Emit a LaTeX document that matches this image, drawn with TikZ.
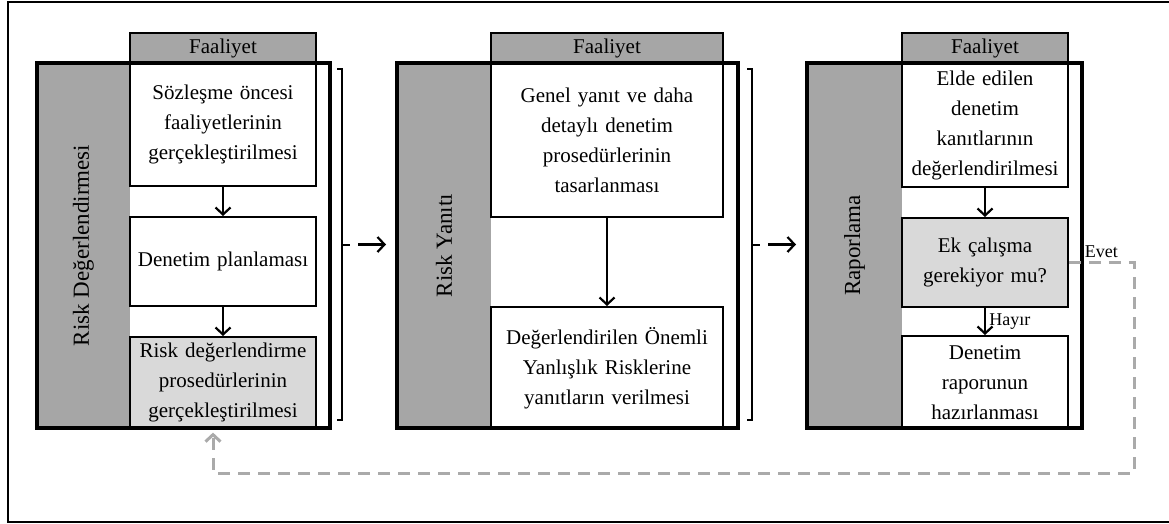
\documentclass[tikz,border=0pt]{standalone}
\usepackage{fontspec}
\setmainfont{Liberation Serif}
\usetikzlibrary{arrows.meta}

\definecolor{barGray}{RGB}{166,166,166}
\definecolor{stepGray}{RGB}{217,217,217}
\definecolor{loopGray}{RGB}{170,170,170}

\tikzset{
  colframe/.style={draw, line width=4pt, inner sep=0pt},
  sidebar/.style={fill=barGray, inner sep=0pt, rotate=90,
    font=\fontsize{23}{28}\selectfont},
  tabbox/.style={draw, fill=barGray, line width=1.3pt, inner sep=0pt,
    minimum height=30pt, font=\fontsize{21}{30}\selectfont},
  stepbox/.style={draw, fill=white, line width=1.6pt, inner sep=0pt,
    align=center, anchor=north, font=\fontsize{21}{30}\selectfont},
  askbox/.style={stepbox, fill=stepGray},
  flow/.style={-{Straight Barb[length=7pt, width=15pt]}, line width=2.2pt},
  loopline/.style={-{Straight Barb[length=7pt, width=15pt]}, line width=3pt,
    draw=loopGray, dash pattern=on 12pt off 8pt},
  bracket/.style={line width=2pt},
  note/.style={font=\fontsize{18}{22}\selectfont}
}

\begin{document}
\begin{tikzpicture}[x=1pt, y=-1pt]

\useasboundingbox (0,0) rectangle (1169,524);
\draw [line width=2.5pt] (8,2) rectangle (1180,522);

% gray side bars
\foreach \n/\x/\w/\l in {rd/83.5/93/Risk Değerlendirmesi, ry/444/94/Risk Yanıtı, rp/854.5/95/Raporlama}
  \node [sidebar, minimum width=365pt, minimum height=\w pt] (\n-bar) at (\x,245.5) {\l};

% Faaliyet tabs
\foreach \n/\x/\w in {rd/223/186, ry/607/232, rp/985/166}
  \node [tabbox, minimum width=\w pt] (\n-tab) at (\x,48) {Faaliyet};

% activities
\node [stepbox, minimum width=186pt, minimum height=122pt, text width=180pt] (rd-1) at (223,63)
  {Sözleşme öncesi\\faaliyetlerinin\\gerçekleştirilmesi};
\node [stepbox, minimum width=186pt, minimum height=89pt, text width=180pt] (rd-2) at (223,216)
  {Denetim planlaması};
\node [askbox, minimum width=186pt, minimum height=92pt, text width=180pt] (rd-3) at (223,336)
  {Risk değerlendirme\\prosedürlerinin\\gerçekleştirilmesi};

\node [stepbox, minimum width=232pt, minimum height=153pt, text width=226pt] (ry-1) at (607,63)
  {Genel yanıt ve daha\\detaylı denetim\\prosedürlerinin\\tasarlanması};
\node [stepbox, minimum width=232pt, minimum height=122pt, text width=226pt] (ry-2) at (607,306)
  {Değerlendirilen Önemli\\Yanlışlık Risklerine\\yanıtların verilmesi};

\node [stepbox, minimum width=166pt, minimum height=123pt, text width=164pt] (rp-1) at (985,63)
  {Elde edilen\\denetim\\kanıtlarının\\değerlendirilmesi};
\node [askbox, minimum width=166pt, minimum height=89pt, text width=160pt] (rp-2) at (985,217)
  {Ek çalışma\\gerekiyor mu?};
\node [stepbox, minimum width=166pt, minimum height=93pt, text width=160pt] (rp-3) at (985,335)
  {Denetim\\raporunun\\hazırlanması};

% thick column frames
\foreach \n/\x/\w in {rd/183.5/293, ry/567.5/341, rp/944.5/275}
  \node [colframe, minimum width=\w pt, minimum height=365pt] (\n-frame) at (\x,245.5) {};

\draw [flow] (rd-1) -- (rd-2);
\draw [flow] (rd-2) -- (rd-3);
\draw [flow] (ry-1) -- (ry-2);
\draw [flow] (rp-1) -- (rp-2);
\draw [flow] (rp-2) -- (rp-3)
  node [note, right, midway] {Hayır};

% brackets between columns
\foreach \n/\x in {rd/342, ry/752} {
  \draw [bracket] (\x-5,69) -- (\x,69) -- (\x,420) -- (\x-5,420);
  \draw [bracket] (\x,244.5) -- ++(8,0) coordinate (\n-out);
}
\draw [flow, shorten <=8pt, shorten >=9pt] (rd-out) -- (ry-frame.west |- rd-out);
\draw [flow, shorten <=8pt, shorten >=9pt] (ry-out) -- (rp-frame.west |- ry-out);

% loop back
\coordinate (loop-corner) at (1134,473);
\coordinate (loop-end) at ([xshift=-10pt]rd-3.south);
\draw [loopline, shorten >=3pt] (rp-2.east) -- node [note, draw=none, above, text=black] {Evet}
  (rp-2.east -| loop-corner) -- (loop-corner) -| (loop-end);

\end{tikzpicture}
\end{document}
